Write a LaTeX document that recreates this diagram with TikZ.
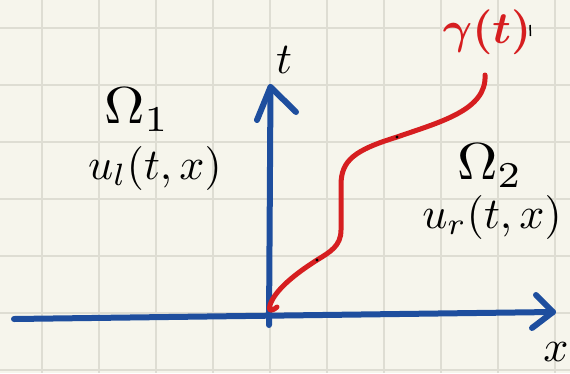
\documentclass[tikz,border=0pt]{standalone}
\usepackage{graphicx}
\definecolor{paper}{RGB}{246,245,236}
\definecolor{gridc}{RGB}{222,221,211}
\definecolor{axisblue}{RGB}{30,78,158}
\definecolor{curvered}{RGB}{214,30,32}
\newcommand{\hbig}[1]{\scalebox{4.4}{#1}}
\newcommand{\homg}[1]{\scalebox{5.6}[5.2]{#1}}
\newcommand{\hred}[1]{\scalebox{4.5}{\boldmath #1}}
\tikzset{
  gridline/.style={draw=gridc, line width=1.6pt},
  axisline/.style={draw=axisblue, line width=6pt, line cap=round, line join=round},
  curveline/.style={draw=curvered, line width=5pt, line cap=round, line join=round},
  hand/.style={inner sep=0pt, text=black},
  redlabel/.style={inner sep=0pt, text=curvered},
  pendot/.style={fill=black}
}
\begin{document}
\begin{tikzpicture}[x=1pt,y=-1pt]
\useasboundingbox (0,0) rectangle (570,373);
\fill[paper] (0,0) rectangle (570,373);
% grid
\foreach \i in {0,...,9} \draw[gridline] ({41.7+57*\i},0) -- ({41.7+57*\i},373);
\foreach \j in {0,...,6} \draw[gridline] (0,{28+57*\j}) -- (570,{28+57*\j});
% axes
\coordinate (xs) at (14,319);
\coordinate (xe) at (553,312);
\coordinate (xa1) at (536,295);
\coordinate (xa2) at (532,328);
\coordinate (ts) at (269,325);
\coordinate (te) at (270.5,87);
\coordinate (ta1) at (257,120);
\coordinate (ta2) at (296,112);
\draw[axisline] (xs) -- (xe);
\draw[axisline] (xa1) -- (xe) -- (xa2);
\draw[axisline] (ts) -- (te);
\draw[axisline] (ta1) -- (te) -- (ta2);
% curve
\coordinate (ctop) at (485,75);
\coordinate (cm1) at (397,137);
\coordinate (cm2) at (341,185);
\coordinate (cm3) at (341,230);
\coordinate (cm4) at (317,260);
\coordinate (cm5) at (270,305);
\coordinate (cend) at (277,307);
\draw[curveline] (ctop) .. controls (487,110) and (440,122) .. (cm1)
  .. controls (355,150) and (341,160) .. (cm2) -- (cm3)
  .. controls (341,246) and (330,252) .. (cm4)
  .. controls (295,274) and (275,290) .. (cm5)
  .. controls (268,311) and (271,312) .. (cend);
\fill[pendot] (397,137) circle (1.6);
\fill[pendot] (317,260) circle (1.6);
% labels
\node[redlabel] (gam) at (487,32) {\hred{$\gamma(t)$}};
\draw[black, line width=1.5pt] (530,25) -- (530.5,36);
\node[hand] (tl) at (284,60) {\hbig{$t$}};
\node[hand] (xl) at (556,352) {\hbig{$x$}};
\node[hand] (om1) at (137,110) {\homg{$\Omega_1$}};
\node[hand] (u1) at (155,168) {\hbig{$u_l(t,x)$}};
\node[hand] (om2) at (490,166) {\homg{$\Omega_2$}};
\node[hand] (u2) at (492,217) {\hbig{$u_r(t,x)$}};
\end{tikzpicture}
\end{document}
